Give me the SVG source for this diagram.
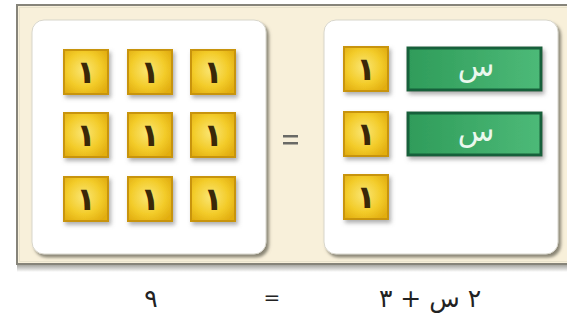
<svg xmlns="http://www.w3.org/2000/svg" width="567" height="323" viewBox="0 0 567 323">
  <defs>
    <radialGradient id="gold" cx="0.45" cy="0.45" r="0.65">
      <stop offset="0" stop-color="#fae674"/>
      <stop offset="0.6" stop-color="#f3cc2a"/>
      <stop offset="1" stop-color="#e2ae10"/>
    </radialGradient>
    <linearGradient id="green" x1="0" y1="0" x2="1" y2="0">
      <stop offset="0" stop-color="#2f9c5a"/>
      <stop offset="1" stop-color="#4dba78"/>
    </linearGradient>
    <linearGradient id="frameShadow" x1="0" y1="0" x2="0" y2="1">
      <stop offset="0" stop-color="#9a9a94"/>
      <stop offset="1" stop-color="#ffffff"/>
    </linearGradient>
    <filter id="tileShadow" x="-20%" y="-20%" width="150%" height="150%">
      <feDropShadow dx="2" dy="3" stdDeviation="2" flood-color="#7a7a7a" flood-opacity="0.6"/>
    </filter>
    <filter id="panelShadow" x="-5%" y="-5%" width="112%" height="112%">
      <feDropShadow dx="2.5" dy="3" stdDeviation="1.5" flood-color="#6e6a5c" flood-opacity="0.8"/>
    </filter>
  </defs>
  <style>
    .tile rect { fill: url(#gold); stroke: #c8940c; stroke-width: 2; filter: url(#tileShadow); }
    .tile text { font-family: "DejaVu Sans", sans-serif; font-size: 32px; fill: #3a2808; text-anchor: middle; font-weight: bold; }
    .bar rect { fill: url(#green); stroke: #17603a; stroke-width: 3; filter: url(#tileShadow); }
    .bar text { font-family: "DejaVu Sans", sans-serif; font-size: 30px; fill: #eaf8ee; text-anchor: middle; }
    .panel { fill: #ffffff; stroke: #d8d6cc; stroke-width: 1; filter: url(#panelShadow); }
    .eq { font-family: "DejaVu Sans", sans-serif; font-size: 25px; fill: #222; text-anchor: middle; }
    .eqs { font-family: "DejaVu Sans", sans-serif; font-size: 20px; fill: #222; text-anchor: middle; }
  </style>

  <rect x="0" y="0" width="567" height="323" fill="#ffffff"/>

  <!-- outer frame -->
  <g id="frame">
    <rect x="17" y="264" width="560" height="8" fill="url(#frameShadow)"/>
    <rect x="17" y="5" width="560" height="259" fill="#f8f0da" stroke="#86847a" stroke-width="2"/>
    <rect x="19.5" y="7.5" width="560" height="254" fill="none" stroke="#e8e2cc" stroke-width="1"/>
  </g>

  <!-- panels -->
  <g id="panel-left">
    <rect class="panel" x="32" y="20" width="234" height="234" rx="12" ry="12"/>
  </g>
  <g id="panel-right">
    <rect class="panel" x="324" y="20" width="234" height="234" rx="12" ry="12"/>
  </g>

  <!-- left tiles 3x3 -->
  <g id="tile-l1" class="tile"><rect x="64" y="50" width="44" height="44"/><text x="86" y="83">١</text></g>
  <g id="tile-l2" class="tile"><rect x="128" y="50" width="44" height="44"/><text x="150" y="83">١</text></g>
  <g id="tile-l3" class="tile"><rect x="191" y="50" width="44" height="44"/><text x="213" y="83">١</text></g>
  <g id="tile-l4" class="tile"><rect x="64" y="113" width="44" height="44"/><text x="86" y="146">١</text></g>
  <g id="tile-l5" class="tile"><rect x="128" y="113" width="44" height="44"/><text x="150" y="146">١</text></g>
  <g id="tile-l6" class="tile"><rect x="191" y="113" width="44" height="44"/><text x="213" y="146">١</text></g>
  <g id="tile-l7" class="tile"><rect x="64" y="177" width="44" height="44"/><text x="86" y="210">١</text></g>
  <g id="tile-l8" class="tile"><rect x="128" y="177" width="44" height="44"/><text x="150" y="210">١</text></g>
  <g id="tile-l9" class="tile"><rect x="191" y="177" width="44" height="44"/><text x="213" y="210">١</text></g>

  <!-- middle equals -->
  <g id="equals-middle">
    <rect x="283" y="135" width="15" height="2.5" fill="#6a6a66"/>
    <rect x="283" y="142" width="15" height="2.5" fill="#6a6a66"/>
  </g>

  <!-- right tiles -->
  <g id="tile-r1" class="tile"><rect x="344" y="47" width="44" height="44"/><text x="366" y="80">١</text></g>
  <g id="tile-r2" class="tile"><rect x="344" y="112" width="44" height="44"/><text x="366" y="145">١</text></g>
  <g id="tile-r3" class="tile"><rect x="344" y="175" width="44" height="44"/><text x="366" y="208">١</text></g>

  <!-- green x bars -->
  <g id="bar-x1" class="bar"><rect x="408" y="48" width="133" height="42"/><text x="476" y="76">س</text></g>
  <g id="bar-x2" class="bar"><rect x="408" y="113" width="133" height="42"/><text x="476" y="141">س</text></g>

  <!-- bottom equation -->
  <g id="equation">
    <text class="eq" x="151" y="307">٩</text>
    <text class="eqs" x="272" y="304">=</text>
    <text class="eq" x="430" y="307" direction="rtl">٢ س + ٣</text>
  </g>
</svg>
